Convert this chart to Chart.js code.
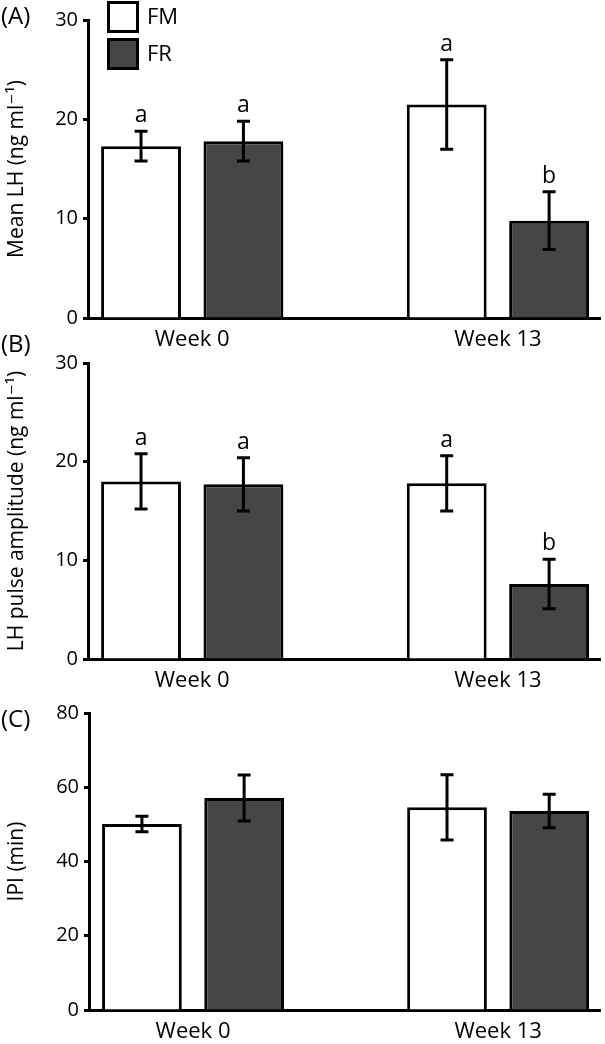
<!DOCTYPE html>
<html>
<head>
<meta charset="utf-8">
<script src="https://cdn.jsdelivr.net/npm/chart.js@4.4.0/dist/chart.umd.min.js"></script>
<style>
  body { margin: 0; background: #fff; width: 605px; height: 1044px; position: relative; overflow: hidden; }
  canvas { position: absolute; left: 0; }
</style>
</head>
<body>
<canvas id="panelA" width="605" height="350" style="top:0px"></canvas>
<canvas id="panelB" width="605" height="360" style="top:330px"></canvas>
<canvas id="panelC" width="605" height="354" style="top:690px"></canvas>
<script>
const weeks = ['Week 0', 'Week 13'];
const groups = ['FM', 'FR'];

// (A) mean LH, ng/ml
const meanLhFM = [17.3, 21.5];
const meanLhFMErr = [1.5, 4.5];
const meanLhFR = [17.8, 9.8];
const meanLhFRErr = [2.0, 2.9];
const meanLhLettersFM = ['a', 'a'];
const meanLhLettersFR = ['a', 'b'];

// (B) LH pulse amplitude, ng/ml
const ampFM = [18.0, 17.8];
const ampFMErr = [2.8, 2.8];
const ampFR = [17.7, 7.6];
const ampFRErr = [2.7, 2.5];
const ampLettersFM = ['a', 'a'];
const ampLettersFR = ['a', 'b'];

// (C) inter-pulse interval, min
const ipiFM = [50.1, 54.6];
const ipiFMErr = [2.1, 8.8];
const ipiFR = [57.1, 53.6];
const ipiFRErr = [6.2, 4.5];

const yTicksA = [0, 10, 20, 30];
const yTicksB = [0, 10, 20, 30];
const yTicksC = [0, 20, 40, 60, 80];

Chart.defaults.font.family = "'Open Sans', 'DejaVu Sans', sans-serif";
Chart.defaults.color = '#000';

// error bars + significance letters
const errorBars = {
  id: 'errorBars',
  afterDatasetsDraw(chart) {
    const ctx = chart.ctx;
    const y = chart.scales.y;
    chart.data.datasets.forEach((ds, di) => {
      chart.getDatasetMeta(di).data.forEach((bar, i) => {
        const v = ds.data[i].y, e = ds.err[i];
        const top = y.getPixelForValue(v + e);
        const bot = y.getPixelForValue(v - e);
        ctx.save();
        ctx.strokeStyle = '#000';
        ctx.lineWidth = 3;
        ctx.beginPath();
        ctx.moveTo(bar.x, top); ctx.lineTo(bar.x, bot);
        ctx.moveTo(bar.x - 6.5, top); ctx.lineTo(bar.x + 6.5, top);
        ctx.moveTo(bar.x - 6.5, bot); ctx.lineTo(bar.x + 6.5, bot);
        ctx.stroke();
        if (ds.letters) {
          ctx.fillStyle = '#000';
          ctx.font = "23px 'Open Sans'";
          ctx.textAlign = 'center';
          ctx.textBaseline = 'alphabetic';
          ctx.fillText(ds.letters[i], bar.x, top - 9);
        }
        ctx.restore();
      });
    });
  }
};

const panelText = {
  id: 'panelText',
  afterDraw(chart, args, opts) {
    const ctx = chart.ctx;
    ctx.save();
    ctx.fillStyle = '#000';
    ctx.font = "24px 'Open Sans'";
    ctx.textBaseline = 'middle';
    ctx.fillText(opts.label, 1, opts.labelY);
    if (opts.legend) {
      ctx.font = "22px 'Open Sans'";
      chart.data.datasets.forEach((ds, i) => {
        const by = 2.5 + i * 37;
        ctx.fillStyle = ds.backgroundColor;
        ctx.fillRect(108.5, by, 29, 29);
        ctx.strokeStyle = '#000';
        ctx.lineWidth = 3;
        ctx.strokeRect(108.5, by, 29, 29);
        ctx.fillStyle = '#000';
        ctx.fillText(ds.label, 147, by + 15);
      });
    }
    ctx.restore();
  }
};

function makePanel(id, p) {
  const mk = (vals) => vals.map((v, i) => ({ x: i, y: v }));
  return new Chart(document.getElementById(id), {
    type: 'bar',
    data: {
      datasets: [
        { label: groups[0], data: mk(p.fm), err: p.fmErr, letters: p.fmLetters,
          backgroundColor: '#ffffff', borderColor: '#000', borderWidth: 3 },
        { label: groups[1], data: mk(p.fr), err: p.frErr, letters: p.frLetters,
          backgroundColor: '#464646', borderColor: '#000', borderWidth: 3 }
      ]
    },
    options: {
      responsive: false,
      animation: false,
      devicePixelRatio: 1,
      categoryPercentage: 0.67,
      barPercentage: 0.78,
      layout: { padding: { top: p.padTop, right: 5, left: 0, bottom: 0 } },
      plugins: {
        legend: { display: false },
        tooltip: { enabled: false },
        panelText: { label: p.label, labelY: p.labelY, legend: p.legend }
      },
      scales: {
        x: {
          type: 'linear',
          offset: false,
          min: -0.341,
          max: 1.334,
          z: 1,
          grid: { display: false, drawTicks: false },
          border: { display: true, color: '#000', width: 3 },
          afterBuildTicks: (s) => { s.ticks = weeks.map((w, i) => ({ value: i })); },
          afterFit: (s) => { s.height = p.xHeight; },
          ticks: {
            autoSkip: false,
            maxRotation: 0,
            padding: 9,
            font: { size: 22 },
            callback: (v) => weeks[v]
          }
        },
        y: {
          min: 0,
          max: p.yTicks[p.yTicks.length - 1],
          z: 1,
          afterBuildTicks: (s) => { s.ticks = p.yTicks.map(v => ({ value: v })); },
          afterFit: (s) => { s.width = p.axisX; },
          grid: { drawOnChartArea: false, drawTicks: true, tickLength: 5, tickWidth: 3, color: '#000' },
          border: { display: true, color: '#000', width: 3 },
          ticks: { padding: 5, font: { size: 20 } },
          title: {
            display: true,
            text: p.title,
            font: { size: 21 },
            padding: { top: 4, bottom: 0 }
          }
        }
      }
    },
    plugins: [errorBars, panelText]
  });
}

makePanel('panelA', {
  fm: meanLhFM, fmErr: meanLhFMErr, fr: meanLhFR, frErr: meanLhFRErr,
  fmLetters: meanLhLettersFM, frLetters: meanLhLettersFR,
  yTicks: yTicksA, title: 'Mean LH (ng ml\u207B\u00B9)',
  label: '(A)', labelY: 17, legend: true,
  padTop: 20, xHeight: 32, axisX: 88
});
makePanel('panelB', {
  fm: ampFM, fmErr: ampFMErr, fr: ampFR, frErr: ampFRErr,
  fmLetters: ampLettersFM, frLetters: ampLettersFR,
  yTicks: yTicksB, title: 'LH pulse amplitude (ng ml\u207B\u00B9)',
  label: '(B)', labelY: 15, legend: false,
  padTop: 33, xHeight: 31, axisX: 88
});
makePanel('panelC', {
  fm: ipiFM, fmErr: ipiFMErr, fr: ipiFR, frErr: ipiFRErr,
  fmLetters: null, frLetters: null,
  yTicks: yTicksC, title: 'IPI (min)',
  label: '(C)', labelY: 30, legend: false,
  padTop: 23, xHeight: 34, axisX: 89
});
</script>
</body>
</html>
